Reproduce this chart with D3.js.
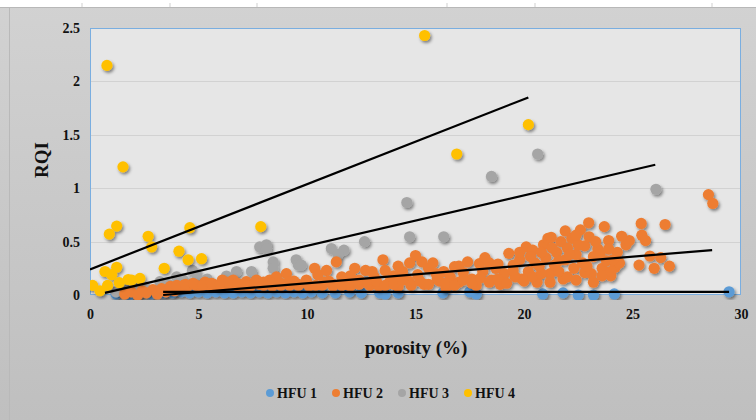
<!DOCTYPE html>
<meta charset="utf-8">
<script src="https://d3js.org/d3.v7.min.js"></script>
<style>
  body { margin: 0; }
  svg { display: block; }
</style>
<svg id="chart"></svg>
<script>

// data: [porosity %, RQI]
var hfu1 = [[1.2,0.01],[1.8,0.0],[2.3,0.02],[2.8,0.01],[3.4,0.02],[3.8,0.02],[4.2,0.03],[4.6,0.02],
  [5.0,0.03],[5.4,0.02],[5.8,0.03],[6.2,0.02],[6.6,0.02],[7.0,0.03],[7.4,0.02],[7.8,0.03],[8.2,0.02],
  [8.6,0.03],[9.0,0.02],[9.4,0.03],[9.8,0.02],[10.2,0.03],[10.7,0.02],[11.3,0.02],[11.96,0.03],
  [12.5,0.02],[13.35,0.02],[13.6,0.01],[14.2,0.02],[16.26,0.02],[17.5,0.03],[17.8,0.01],[20.86,0.01],
  [21.8,0.02],[22.5,0.0],[23.2,0.0],[24.16,0.01],[29.45,0.03]];

var hfu2 = [[1.6,0.01],[1.9,0.03],[2.2,0.0],[2.4,0.04],[2.6,0.02],[2.9,0.05],[3.1,0.01],[3.3,0.06],
  [3.5,0.03],[3.7,0.08],[3.9,0.04],[4.1,0.08],[4.3,0.09],[4.5,0.085],[4.75,0.11],[4.9,0.09],[5.1,0.085],
  [5.3,0.12],[5.5,0.09],[5.7,0.1],[5.9,0.085],[6.1,0.14],[6.2,0.09],[6.4,0.1],[6.6,0.14],[6.8,0.085],
  [7.0,0.09],[7.2,0.125],[7.4,0.085],[7.67,0.14],[7.8,0.1],[8.0,0.09],[8.28,0.14],[8.4,0.085],
  [8.59,0.17],[8.8,0.11],[9.05,0.2],[9.2,0.09],[9.4,0.13],[9.6,0.1],[9.97,0.14],[10.1,0.085],
  [10.35,0.25],[10.5,0.19],[10.7,0.09],[10.9,0.23],[11.0,0.13],[11.2,0.085],[11.35,0.31],[11.6,0.17],
  [11.8,0.1],[12.0,0.085],[12.2,0.25],[12.4,0.14],[12.7,0.23],[12.9,0.09],[13.1,0.17],[13.3,0.085],
  [13.5,0.33],[13.6,0.23],[13.8,0.12],[14.0,0.18],[14.2,0.08],[14.4,0.22],[14.73,0.3],[14.7,0.13],
  [15.0,0.37],[15.1,0.19],[15.3,0.31],[15.4,0.1],[15.6,0.25],[15.95,0.2],[16.1,0.13],[16.4,0.07],
  [16.6,0.17],[16.8,0.265],[17.0,0.12],[17.2,0.21],[17.4,0.31],[17.6,0.15],[17.8,0.09],[17.95,0.295],
  [18.1,0.22],[18.4,0.3],[18.5,0.14],[18.7,0.25],[18.9,0.1],[19.1,0.2],[19.3,0.39],[19.5,0.28],
  [19.8,0.33],[19.9,0.15],[20.1,0.45],[20.2,0.22],[20.4,0.42],[20.5,0.3],[20.6,0.12],[20.9,0.47],
  [21.0,0.35],[21.1,0.53],[21.2,0.2],[21.25,0.54],[21.4,0.28],[21.5,0.4],[21.7,0.5],[21.8,0.15],
  [21.9,0.33],[22.0,0.44],[22.2,0.53],[22.3,0.25],[22.4,0.38],[22.6,0.61],[22.7,0.3],[22.8,0.46],
  [22.98,0.676],[23.0,0.545],[23.1,0.2],[23.2,0.36],[23.4,0.43],[23.6,0.25],[23.7,0.64],[23.8,0.32],
  [23.9,0.51],[24.0,0.18],[24.2,0.26],[24.3,0.4],[24.7,0.47],[24.85,0.51],[25.3,0.28],[25.4,0.67],
  [25.43,0.56],[25.6,0.51],[25.8,0.365],[26.0,0.25],[26.3,0.35],[26.5,0.66],[26.7,0.27],
  [28.5,0.94],[28.7,0.857],
  [4.0,0.09],[4.4,0.1],[4.8,0.1],[5.2,0.09],[5.6,0.11],[6.0,0.1],[6.4,0.12],[6.8,0.11],[7.2,0.09],
  [7.6,0.11],[8.0,0.12],[8.4,0.11],[8.8,0.09],[9.2,0.12],[9.6,0.09],[10.0,0.11],[10.4,0.09],[10.8,0.12],
  [11.2,0.1],[11.6,0.09],[12.0,0.12],[12.4,0.1],[12.8,0.11],[13.2,0.13],[13.6,0.09],[14.0,0.1],
  [14.4,0.14],[14.8,0.09],[15.2,0.13],[15.6,0.1],[16.0,0.15],[16.4,0.11],[16.8,0.09],[17.2,0.14],
  [17.6,0.11],[18.0,0.16],[18.4,0.12],[18.8,0.15],[19.2,0.11],[19.6,0.17],[20.0,0.13],[20.4,0.17],
  [20.8,0.2],[21.2,0.12],[21.6,0.22],[22.0,0.17],[22.4,0.14],[22.8,0.21],[23.2,0.12],[23.6,0.18],
  [24.0,0.22],[24.4,0.3],
  [12.0,0.18],[13.0,0.22],[14.2,0.27],[15.8,0.3],[16.3,0.22],[17.0,0.27],[18.2,0.35],[18.8,0.29],
  [19.5,0.23],[20.3,0.36],[20.7,0.27],[21.3,0.44],[21.6,0.32],[22.1,0.38],[22.5,0.47],[22.9,0.27],
  [23.3,0.5],[23.5,0.38],[23.9,0.43],[24.1,0.33],[24.5,0.55],[22.4,0.56],[21.9,0.6],[20.8,0.4],
  [19.8,0.4]];

var hfu3 = [[1.2,0.03],[1.69,0.05],[2.1,0.08],[2.6,0.06],[3.22,0.125],[3.6,0.1],[3.99,0.17],[4.3,0.14],
  [4.72,0.23],[4.91,0.19],[5.4,0.15],[6.29,0.178],[6.75,0.22],[7.44,0.22],[7.82,0.45],[8.13,0.47],
  [8.13,0.435],[8.44,0.31],[8.44,0.25],[9.5,0.33],[9.6,0.28],[9.74,0.28],[11.12,0.435],[11.7,0.42],
  [11.43,0.38],[12.65,0.5],[14.6,0.866],[14.73,0.545],[16.3,0.545],[18.5,1.11],[20.63,1.32],[26.08,0.99]];

var hfu4 = [[0.12,0.09],[0.46,0.04],[0.69,0.22],[0.78,2.15],[0.81,0.09],[0.89,0.57],[1.0,0.19],
  [1.23,0.645],[1.23,0.26],[1.35,0.115],[1.52,1.2],[1.76,0.145],[1.92,0.14],[2.3,0.155],[2.68,0.55],
  [2.84,0.45],[3.42,0.25],[4.1,0.41],[4.52,0.33],[4.6,0.63],[5.14,0.34],[7.87,0.64],[15.42,2.43],
  [16.9,1.32],[20.2,1.595]];

// trend line end points, one per unit
var trendLines = [
  [[3.37, 0.03], [29.45, 0.03]],
  [[3.37, 0.0], [28.67, 0.42]],
  [[0.69, 0.02], [26.05, 1.22]],
  [[0.0, 0.24], [20.2, 1.85]]
];

var seriesNames = ["HFU 1", "HFU 2", "HFU 3", "HFU 4"];
var seriesColors = ["#5b9bd5", "#ed7d31", "#a5a5a5", "#ffc000"];
var xTicks = [0, 5, 10, 15, 20, 25, 30];
var yTicks = [0, 0.5, 1, 1.5, 2, 2.5];

var W = 756, H = 420;
var plot = { left: 90, right: 741, top: 28, bottom: 295 };

var svg = d3.select("#chart").attr("width", W).attr("height", H);
var defs = svg.append("defs");

var grad = defs.append("linearGradient").attr("id", "bg")
  .attr("x1", 0).attr("y1", 0).attr("x2", 0).attr("y2", 1);
grad.append("stop").attr("offset", "0%").attr("stop-color", "#d2d2d2");
grad.append("stop").attr("offset", "100%").attr("stop-color", "#bfbfbf");

defs.append("filter").attr("id", "shadow")
  .attr("x", "-50%").attr("y", "-50%").attr("width", "200%").attr("height", "200%")
  .append("feDropShadow")
    .attr("dx", 1.5).attr("dy", 2).attr("stdDeviation", 1.4)
    .attr("flood-color", "#000").attr("flood-opacity", 0.45);

defs.append("clipPath").attr("id", "clip")
  .append("rect")
    .attr("x", plot.left).attr("y", plot.top - 10)
    .attr("width", plot.right - plot.left + 10).attr("height", plot.bottom - plot.top + 15);

// background
svg.append("rect").attr("width", W).attr("height", H).attr("fill", "url(#bg)");
svg.append("rect").attr("width", W).attr("height", 7).attr("fill", "#fff");
svg.append("line").attr("x1", 0).attr("x2", W).attr("y1", 7.5).attr("y2", 7.5)
  .attr("stroke", "#b8b8b8");
[82, 170, 257, 447, 535, 712].forEach(function (t) {
  svg.append("line").attr("x1", t).attr("x2", t).attr("y1", 3).attr("y2", 7)
    .attr("stroke", "#cfcfcf");
});
svg.append("line").attr("x1", 9.5).attr("x2", 9.5).attr("y1", 8).attr("y2", H)
  .attr("stroke", "#b9b9b9");

var x = d3.scaleLinear().domain([0, 30]).range([plot.left, plot.right]);
var y = d3.scaleLinear().domain([0, 2.5]).range([plot.bottom, plot.top]);

// plot area
svg.append("rect")
  .attr("x", plot.left).attr("y", plot.top)
  .attr("width", plot.right - plot.left).attr("height", plot.bottom - plot.top)
  .attr("fill", "#e6e6e6");

svg.append("g").selectAll("line")
  .data(yTicks.slice(1, -1))
  .enter().append("line")
    .attr("x1", plot.left).attr("x2", plot.right)
    .attr("y1", function (d) { return Math.round(y(d)) + 0.5; })
    .attr("y2", function (d) { return Math.round(y(d)) + 0.5; })
    .attr("stroke", "#d2d2d2");

svg.append("rect")
  .attr("x", plot.left + 0.5).attr("y", plot.top + 0.5)
  .attr("width", plot.right - plot.left - 1).attr("height", plot.bottom - plot.top - 1)
  .attr("fill", "none").attr("stroke", "#7aaee0").attr("stroke-width", 1);

// axes
var font = "'Liberation Serif', 'Times New Roman', serif";

var yAxis = svg.append("g")
  .attr("transform", "translate(" + plot.left + ",0)")
  .call(d3.axisLeft(y).tickValues(yTicks).tickSize(0).tickPadding(10).tickFormat(d3.format("")));
var xAxis = svg.append("g")
  .attr("transform", "translate(0," + plot.bottom + ")")
  .call(d3.axisBottom(x).tickValues(xTicks).tickSize(0).tickPadding(14));

[xAxis, yAxis].forEach(function (a) {
  a.select(".domain").remove();
  a.selectAll("text")
    .attr("fill", "#111")
    .style("font-family", font)
    .style("font-weight", "bold")
    .style("font-size", "14px");
});

svg.append("text")
  .attr("x", 416).attr("y", 354)
  .attr("text-anchor", "middle")
  .style("font-family", font).style("font-weight", "bold").style("font-size", "19px")
  .attr("fill", "#111")
  .text("porosity (%)");

svg.append("text")
  .attr("transform", "translate(48,160) rotate(-90)")
  .attr("text-anchor", "middle")
  .style("font-family", font).style("font-weight", "bold").style("font-size", "19px")
  .attr("fill", "#111")
  .text("RQI");

// points: gray drawn under orange, yellow on top
var drawOrder = [0, 2, 1, 3];
var allSeries = [hfu1, hfu2, hfu3, hfu4];

var marks = svg.append("g").attr("clip-path", "url(#clip)");
drawOrder.forEach(function (i) {
  marks.append("g")
    .attr("filter", "url(#shadow)")
    .selectAll("circle")
    .data(allSeries[i])
    .enter().append("circle")
      .attr("cx", function (d) { return x(d[0]); })
      .attr("cy", function (d) { return y(d[1]); })
      .attr("r", 5.6)
      .attr("fill", seriesColors[i]);
});

// trend lines
var line = d3.line()
  .x(function (d) { return x(d[0]); })
  .y(function (d) { return y(d[1]); });

marks.append("g").selectAll("path")
  .data(trendLines)
  .enter().append("path")
    .attr("d", line)
    .attr("fill", "none")
    .attr("stroke", "#000")
    .attr("stroke-width", 2.2);

// legend
var legendX = [270, 336, 402, 468];
var legend = svg.append("g").selectAll("g")
  .data(seriesNames)
  .enter().append("g")
    .attr("transform", function (d, i) { return "translate(" + legendX[i] + ",393)"; });

legend.append("circle")
  .attr("r", 4)
  .attr("fill", function (d, i) { return seriesColors[i]; });

legend.append("text")
  .attr("x", 7)
  .attr("dy", "0.35em")
  .style("font-family", font).style("font-weight", "bold").style("font-size", "14px")
  .attr("fill", "#111")
  .text(function (d) { return d; });

</script>
